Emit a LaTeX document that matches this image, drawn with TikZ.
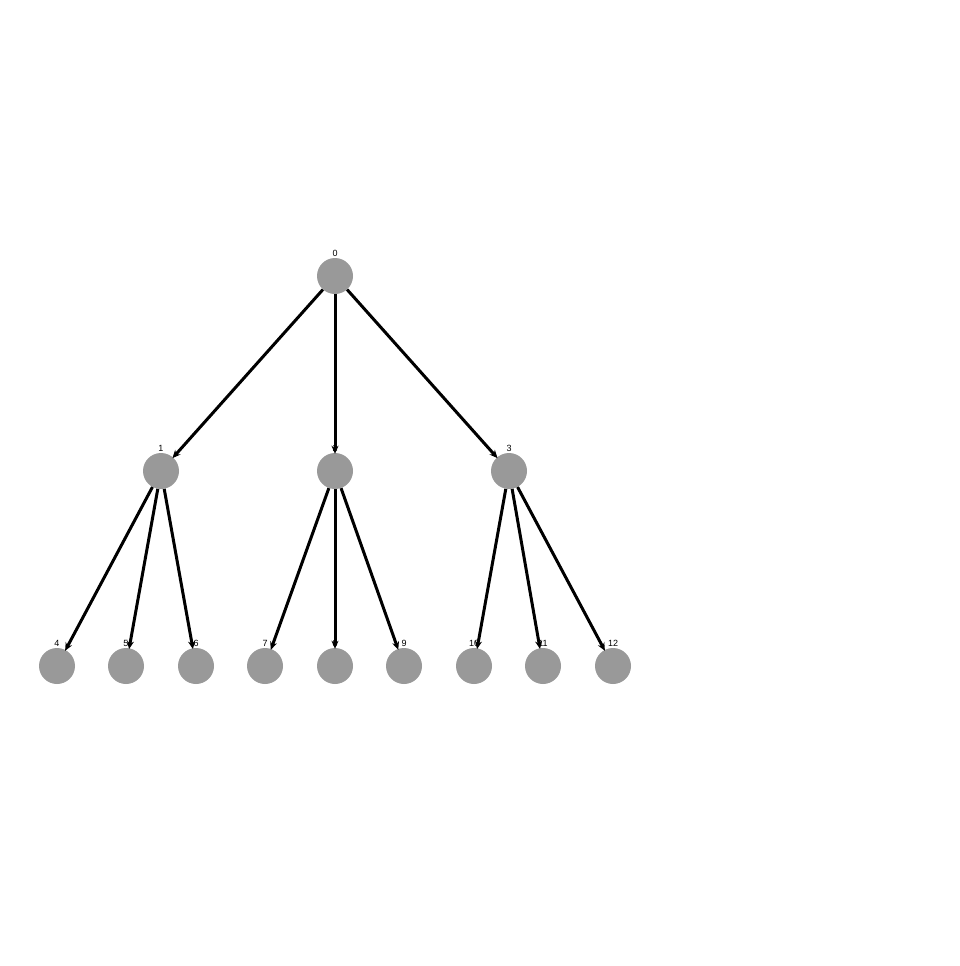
\documentclass[tikz,border=0pt]{standalone}
\usepackage{fontspec}
\setmainfont{Liberation Sans}
\usetikzlibrary{arrows.meta}
\definecolor{vertgray}{RGB}{153,153,153}
\tikzset{
  vert/.style={circle,fill=vertgray,draw=none,minimum size=36pt,inner sep=0pt},
  lab/.style={font=\fontsize{9}{10}\selectfont,text=black,inner sep=0.5pt},
  edge/.style={draw=black,line width=3pt,-{Stealth[length=8pt,width=7pt,inset=2.5pt]},shorten >=-1pt},
}
\begin{document}
\begin{tikzpicture}[x=1pt,y=-1pt,label distance=0.5pt]
  \useasboundingbox (0,0) rectangle (960,966);
  % root
  \node[vert,label={[lab]above:0}] (v0) at (335,276) {};
  % middle row
  \node[vert,label={[lab]above:1}] (v1) at (161,471) {};
  \node[vert,label={[lab]above:2}] (v2) at (335,471) {};
  \node[vert,label={[lab]above:3}] (v3) at (509,471) {};
  % leaves
  \node[vert,label={[lab]above:4}] (v4) at (57,666) {};
  \node[vert,label={[lab]above:5}] (v5) at (126,666) {};
  \node[vert,label={[lab]above:6}] (v6) at (196,666) {};
  \node[vert,label={[lab]above:7}] (v7) at (265,666) {};
  \node[vert,label={[lab]above:8}] (v8) at (335,666) {};
  \node[vert,label={[lab]above:9}] (v9) at (404,666) {};
  \node[vert,label={[lab]above:10}] (v10) at (474,666) {};
  \node[vert,label={[lab]above:11}] (v11) at (543,666) {};
  \node[vert,label={[lab]above:12}] (v12) at (613,666) {};
  % edges
  \draw[edge] (v0) -- (v1);
  \draw[edge] (v0) -- (v2);
  \draw[edge] (v0) -- (v3);
  \draw[edge] (v1) -- (v4);
  \draw[edge] (v1) -- (v5);
  \draw[edge] (v1) -- (v6);
  \draw[edge] (v2) -- (v7);
  \draw[edge] (v2) -- (v8);
  \draw[edge] (v2) -- (v9);
  \draw[edge] (v3) -- (v10);
  \draw[edge] (v3) -- (v11);
  \draw[edge] (v3) -- (v12);
\end{tikzpicture}
\end{document}
